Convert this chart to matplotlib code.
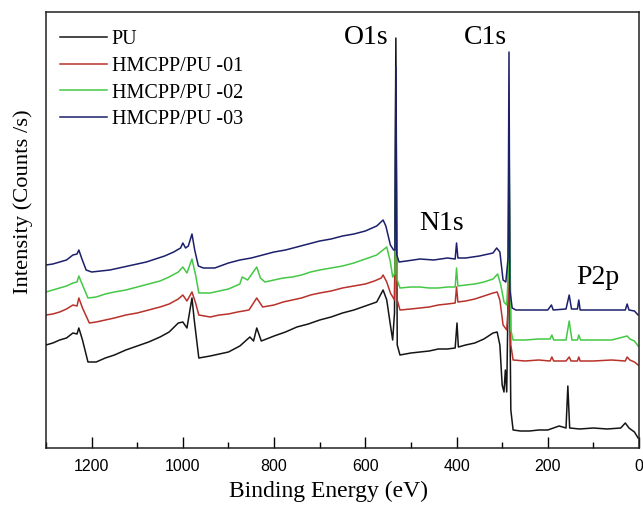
import matplotlib
matplotlib.use('Agg')
import matplotlib.pyplot as plt
from matplotlib.ticker import MultipleLocator

# XPS survey spectra, binding energy (eV) vs intensity (arb. counts/s)
pu_e = [1300, 1285, 1270, 1255, 1241, 1232, 1228, 1220, 1208, 1190, 1170, 1150, 1125, 1100,
        1075, 1050, 1030, 1010, 1000, 991, 980, 975, 965, 940, 920, 900, 875, 853, 845, 838,
        828, 800, 775, 750, 725, 700, 675, 650, 625, 600, 575, 561, 553, 545, 540, 536, 533,
        530, 524, 500, 480, 460, 440, 420, 403, 399, 396, 380, 360, 340, 320, 311, 305, 300,
        296, 293, 290, 287, 285, 281, 276, 260, 240, 220, 200, 175, 160, 156, 152, 130, 100,
        70, 40, 30, 22, 10, 2]
pu_i = [103, 105, 108, 110, 115, 114, 120, 108, 86, 86, 90, 93, 98, 102,
        106, 111, 116, 125, 126, 120, 150, 128, 90, 92, 94, 96, 102, 111, 107, 120,
        107, 112, 116, 121, 124, 128, 131, 135, 138, 142, 146, 158, 148, 123, 108, 135, 410,
        103, 93, 95, 96, 97, 99, 99, 100, 125, 101, 103, 105, 109, 115, 116, 103, 63,
        56, 78, 56, 150, 233, 38, 18, 17, 17, 18, 18, 22, 20, 62, 20, 19, 20,
        19, 20, 25, 20, 16, 10]

pu01_e = [1300, 1285, 1270, 1255, 1241, 1232, 1228, 1220, 1205, 1190, 1170, 1150, 1125, 1100,
          1075, 1050, 1030, 1010, 1000, 991, 980, 972, 965, 940, 920, 900, 880, 855, 838, 825,
          800, 780, 760, 740, 720, 700, 675, 650, 625, 600, 580, 565, 561, 553, 545, 536, 533,
          530, 524, 500, 480, 460, 440, 420, 403, 400, 397, 380, 360, 340, 320, 311, 305, 298,
          290, 287, 285, 281, 276, 250, 220, 195, 191, 187, 160, 153, 149, 135, 132, 129, 100,
          60, 30, 26, 20, 10, 2]
pu01_i = [133, 134, 136, 139, 143, 142, 150, 140, 125, 126, 128, 130, 133, 135,
          138, 141, 144, 149, 153, 147, 156, 145, 133, 131, 133, 134, 136, 138, 150, 141,
          143, 146, 148, 150, 153, 155, 157, 160, 162, 164, 167, 170, 173, 166, 155, 148, 241,
          148, 138, 139, 140, 141, 143, 144, 145, 161, 146, 147, 149, 152, 155, 156, 148, 123,
          118, 140, 288, 103, 88, 87, 88, 87, 91, 87, 87, 91, 87, 87, 91, 87, 87,
          88, 87, 91, 88, 86, 83]

pu02_e = [1300, 1285, 1270, 1255, 1241, 1232, 1228, 1220, 1208, 1190, 1170, 1150, 1125, 1100,
          1075, 1050, 1030, 1010, 1000, 991, 980, 972, 965, 940, 920, 900, 875, 870, 858, 838,
          830, 820, 800, 780, 760, 740, 720, 700, 675, 650, 625, 600, 575, 553, 545, 540, 535,
          533, 530, 524, 500, 480, 460, 440, 420, 403, 400, 397, 380, 360, 340, 320, 310, 303,
          296, 290, 287, 285, 281, 276, 250, 220, 195, 191, 187, 160, 153, 147, 135, 132, 128,
          100, 60, 26, 20, 10, 2]
pu02_i = [156, 158, 160, 162, 165, 166, 172, 163, 150, 151, 154, 156, 158, 161,
          164, 167, 171, 176, 181, 175, 189, 173, 155, 155, 157, 159, 164, 171, 168, 181,
          170, 166, 168, 170, 171, 173, 176, 178, 180, 182, 185, 189, 193, 201, 186, 171, 175,
          318, 168, 160, 161, 161, 160, 160, 161, 161, 180, 162, 163, 164, 166, 169, 174, 163,
          146, 143, 170, 313, 118, 108, 108, 109, 109, 113, 108, 108, 127, 108, 108, 113, 108,
          108, 108, 112, 109, 107, 102]

pu03_e = [1300, 1285, 1270, 1255, 1241, 1232, 1228, 1222, 1212, 1200, 1180, 1160, 1140, 1120,
          1100, 1080, 1060, 1040, 1020, 1005, 1000, 994, 988, 980, 974, 966, 955, 930, 900, 875,
          850, 825, 800, 775, 750, 725, 700, 675, 650, 625, 600, 575, 561, 555, 545, 538, 535,
          533, 531, 526, 510, 480, 450, 420, 403, 400, 397, 380, 350, 320, 312, 305, 298, 292,
          287, 285, 283, 278, 270, 240, 200, 192, 188, 160, 153, 148, 135, 132, 129, 100, 60,
          30, 26, 22, 10, 2]
pu03_i = [183, 184, 186, 188, 193, 194, 198, 190, 178, 176, 177, 178, 180, 182,
          184, 186, 189, 192, 196, 200, 205, 200, 202, 214, 198, 182, 180, 180, 185, 188,
          190, 193, 196, 198, 201, 204, 207, 209, 212, 214, 217, 222, 228, 222, 203, 198, 198,
          381, 193, 186, 187, 189, 188, 190, 189, 205, 190, 190, 192, 195, 200, 196, 168, 166,
          190, 396, 158, 140, 138, 138, 138, 143, 138, 139, 153, 139, 139, 148, 138, 138, 138,
          138, 144, 138, 137, 133]

series = [
    ("PU", pu_e, pu_i, "#151515"),
    ("HMCPP/PU -01", pu01_e, pu01_i, "#b8312a"),
    ("HMCPP/PU -02", pu02_e, pu02_i, "#45c845"),
    ("HMCPP/PU -03", pu03_e, pu03_i, "#1c1f6b"),
]

peak_labels = ["O1s", "C1s", "N1s", "P2p"]
peak_pos = [(599, 410), (336, 410), (432, 225), (90, 171)]

serif = "Liberation Serif"
sans = "Liberation Sans"

fig = plt.figure(figsize=(6.43, 5.07), dpi=100)
ax = fig.add_axes([46 / 643, (507 - 448) / 507, 593 / 643, 436 / 507])

for name, e, i, c in series:
    ax.plot(e, i, color=c, lw=1.1, label=name)

ax.set_xlim(1300, 0)
ax.set_ylim(0, 436)
ax.set_yticks([])
ax.xaxis.set_major_locator(MultipleLocator(200))
ax.xaxis.set_minor_locator(MultipleLocator(100))
ax.tick_params(axis='x', which='major', direction='in', length=8, width=1, pad=8,
               labelsize=11.5)
ax.tick_params(axis='x', which='minor', direction='in', length=4, width=1)
for lab in ax.get_xticklabels():
    lab.set_family(sans)
for s in ax.spines.values():
    s.set_linewidth(1.1)
    s.set_color("#222222")

ax.set_xlabel("Binding Energy (eV)", family=serif, fontsize=17)
ax.set_ylabel("Intensity (Counts /s)", family=serif, fontsize=16.2)
ax.yaxis.set_label_coords(-0.022, 0.564)
ax.xaxis.set_label_coords(0.476, -0.076)

for txt, (x, y) in zip(peak_labels, peak_pos):
    ax.text(x, y, txt, family=serif, fontsize=20, ha='center', va='center')

leg = ax.legend(loc='upper left', bbox_to_anchor=(0.024, 0.958), frameon=False,
                prop={'family': serif, 'size': 14.5}, handlelength=2.3,
                handletextpad=0.25, labelspacing=0.37, borderpad=0, borderaxespad=0)

fig.savefig("out.png", dpi=100)
